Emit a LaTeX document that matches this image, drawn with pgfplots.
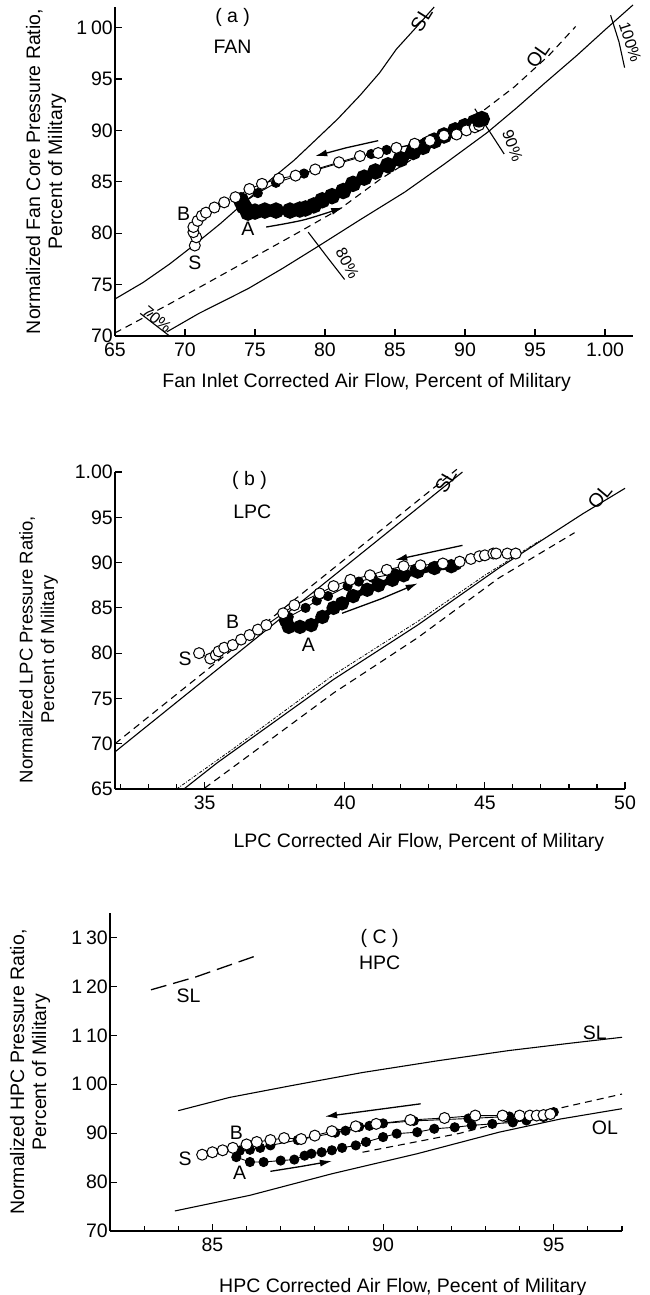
\documentclass[border=0pt]{standalone}
\usepackage{pgfplots}
\pgfplotsset{compat=1.18}
\usepackage{fontspec}
\setmainfont{Liberation Sans}
\usetikzlibrary{arrows.meta}
\newcommand{\fs}{\fontsize{19.5}{22}\selectfont}
\begin{document}
\begin{tikzpicture}
\fs
\useasboundingbox (0pt,0pt) rectangle (650pt,-1295pt);
\pgfplotsset{
  myax/.style={scale only axis, anchor=south west, axis lines=left, axis line style={-, line width=1.6pt},
    tick align=inside, major tick length=7pt, minor tick length=5pt,
    every tick/.style={black, line width=1.1pt}, clip=false,
    ticklabel style={font=\fs, inner sep=2pt}, label style={font=\fs},
    xticklabel style={yshift=-5pt},
    ylabel style={anchor=center, align=center},
    xlabel style={anchor=center}},
  ln/.style={black, line width=1.1pt, no marks},
  dsh/.style={black, line width=1.1pt, no marks, dash pattern=on 7pt off 5pt},
  opn/.style={black, line width=0.9pt, mark=*, mark size=5.5pt, mark options={fill=white, draw=black, line width=1pt, solid}},
  fil/.style={black, line width=0.9pt, mark=*, mark size=4.6pt, mark options={fill=black, draw=black, solid}},
  arr/.style={black, line width=1.3pt, no marks, -{Latex[length=12pt, width=7pt]}},
}
% ---------------- (a) FAN ----------------
\begin{axis}[myax, at={(115pt,-336pt)}, width=518pt, height=329pt,
  xmin=65, xmax=102, ymin=70, ymax=102,
  xtick={65,70,75,80,85,90,95,100}, xticklabels={65,70,75,80,85,90,95,1.00},
  ytick={70,75,80,85,90,95,100}, yticklabels={70,75,80,85,90,95,1\hspace{0.2em}00},
  xlabel={Fan Inlet Corrected Air Flow, Percent of Military},
  ylabel={Normalized Fan Core Pressure Ratio,\\Percent of Military},
  xlabel style={at={(axis description cs:0.486,-0.140)}},
  ylabel style={at={(axis description cs:-0.133,0.5)}}]
\addplot[ln] coordinates {(65,73.6) (67,75.2) (68.9,77.0) (70.6,78.8) (72.5,80.9) (74.5,83.3) (76.2,85.3) (77.8,87.1) (79.2,88.9) (80.9,91.1) (82.5,93.4) (83.9,95.6) (85.1,97.9) (86.5,100.0) (87.8,102.0)};
\addplot[dsh] coordinates {(65,70.3) (69,73.2) (73.9,76.9) (78,80.0) (81.1,82.4) (84,85.3) (86,87.0) (88.5,89.2) (91,91.6) (93.5,94.2) (96,97.3) (97.9,100.1)};
\addplot[ln] coordinates {(68.7,70.4) (71,72.2) (74.5,74.6) (77,76.6) (79.6,78.8) (82.5,81.3) (85.7,84.0) (88.5,86.7) (91.6,89.8) (93.7,92.2) (95.7,94.6) (98,97.3) (100.1,99.9) (102,102.2)};
% speed lines
\addplot[ln] coordinates {(66.8,72.2) (68.9,70.0)};
\addplot[ln] coordinates {(78.8,80.1) (80.2,77.6) (81.4,75.5)};
\addplot[ln] coordinates {(90.7,92.1) (91.8,89.8) (92.8,87.7)};
\addplot[ln] coordinates {(100.4,101.2) (101.0,98.6) (101.4,96.1)};
% data
\addplot[fil, line width=8pt, mark size=4pt] coordinates {(74.0,83.2) (74.2,82.6) (74.5,82.0) (75.0,82.1) (75.7,82.2) (76.5,82.2) (77.5,82.2) (78.2,82.3) (78.6,82.4) (79.2,82.7) (79.8,83.2) (80.5,83.6) (81.3,84.1) (82.0,84.8) (82.8,85.4) (83.6,86.0) (84.5,86.6) (85.4,87.2) (86.3,87.9) (87.0,88.4) (87.8,89.0) (88.5,89.5) (89.3,90.0) (90.0,90.4) (90.7,90.8) (91.2,91.1)};
\addplot[fil] coordinates {(74.2,83.0) (75.2,83.9) (76.5,84.9) (78.5,85.8) (81.0,86.8) (83.3,87.7) (84.4,88.1) (86.3,88.6) (87.2,88.9) (88.1,89.2) (89.3,89.6) (90.5,90.5) (91.0,91.0)};
\addplot[opn] coordinates {(70.7,78.8) (70.8,79.6) (70.6,80.1) (70.6,80.6) (70.9,81.2) (71.2,81.7) (71.5,82.0) (72.1,82.5) (72.8,83.0) (73.6,83.5) (74.6,84.3) (75.5,84.8) (76.7,85.3) (77.9,85.6) (79.3,86.2) (81.0,86.9) (82.5,87.5) (83.8,87.8) (85.1,88.3) (86.4,88.7) (87.5,89.0) (88.5,89.5) (89.4,89.6) (90.1,90.0) (90.7,90.3) (91.0,90.5)};
\addplot[fil, mark size=7pt, only marks] coordinates {(91.0,91.0) (74.3,82.5)};
\addplot[arr] coordinates {(83.8,89.0) (81.5,88.3) (79.3,87.5)};
\addplot[arr, smooth] coordinates {(75.8,80.6) (78.5,81.3) (81.3,82.5)};
\node at (axis cs:73.4,101.0) {( a )};
\node at (axis cs:73.4,98.1) {FAN};
\node[rotate=58] at (axis cs:86.9,100.8) {SL};
\node[rotate=55] at (axis cs:95.2,97.3) {OL};
\node at (axis cs:69.9,81.9) {B};
\node at (axis cs:74.5,80.4) {A};
\node at (axis cs:70.7,77.1) {S};
\node[rotate=-40, font=\fontsize{16}{18}\selectfont] at (axis cs:68.0,71.6) {70\%};
\node[rotate=-62, font=\fontsize{16}{18}\selectfont] at (axis cs:81.6,77.1) {80\%};
\node[rotate=-70, font=\fontsize{16}{18}\selectfont] at (axis cs:93.4,88.5) {90\%};
\node[rotate=-72, font=\fontsize{16}{18}\selectfont] at (axis cs:101.8,98.6) {100\%};
\end{axis}
% ---------------- (b) LPC ----------------
\begin{axis}[myax, at={(115pt,-789pt)}, width=510pt, height=317pt,
  xmin=31.8, xmax=50, ymin=65, ymax=100,
  xtick={35,40,45,50}, xticklabels={35,40,45,50},
  minor xtick={32,33,34,36,37,38,39,41,42,43,44,46,47,48,49},
  ytick={65,70,75,80,85,90,95,100}, yticklabels={65,70,75,80,85,90,95,1.00},
  xlabel={LPC Corrected Air Flow, Percent of Military},
  ylabel={Normalized LPC Pressure Ratio,\\Percent of Military},
  xlabel style={at={(axis description cs:0.596,-0.170)}},
  ylabel style={at={(axis description cs:-0.15,0.44)}, font=\fontsize{18.5}{21.5}\selectfont}]
\addplot[ln] coordinates {(31.8,69.1) (44.2,100.0)};
\addplot[dsh] coordinates {(31.8,70.0) (44.0,100.3)};
\addplot[ln] coordinates {(34.26,65.0) (35.45,67.9) (39.6,77.1) (42.6,83.1) (45.5,89.4) (48.5,95.4) (50,98.2)};
\addplot[black, line width=0.8pt, no marks, dash pattern=on 3pt off 1.5pt on 1pt off 1.5pt] coordinates {(34.0,65.0) (36.0,69.4) (39.6,77.6) (42.6,83.5) (45.0,88.6) (47.0,92.5)};
\addplot[dsh] coordinates {(35.0,65.1) (39.6,75.6) (42.6,81.7) (45.5,88.3) (48.2,93.3)};
\addplot[fil, line width=6pt, mark size=4pt] coordinates {(37.9,83.6) (38.0,82.9) (38.4,82.9) (38.8,83.1) (39.2,84.0) (39.6,85.0) (39.9,85.5) (40.3,86.3) (40.8,87.0) (41.2,87.5) (41.7,88.1) (42.1,88.6) (42.6,89.0) (43.2,89.4) (43.8,89.6)};
\addplot[fil] coordinates {(38.0,84.0) (38.6,85.0) (39.0,85.8) (39.4,86.3) (40.1,87.4) (40.5,87.9) (41.0,88.3) (41.8,88.8) (42.5,89.3) (43.3,89.6) (44.0,89.7)};
\addplot[opn] coordinates {(34.8,80.0) (35.2,79.4) (35.4,79.8) (35.5,80.2) (35.7,80.6) (36.0,80.9) (36.3,81.5) (36.6,82.0) (36.9,82.6) (37.2,83.1) (37.8,84.4) (38.2,85.3) (39.1,86.6) (39.6,87.4) (40.2,88.1) (40.9,88.6) (41.5,89.2) (42.1,89.6) (42.7,89.7) (43.5,89.9) (44.1,90.1) (44.5,90.4) (44.8,90.7) (45.0,90.8) (45.3,91.0) (45.4,91.0) (45.8,91.0) (46.1,91.0)};
\addplot[arr] coordinates {(44.2,91.9) (43.0,91.1) (41.8,90.3)};
\addplot[arr] coordinates {(39.9,84.4) (41.3,86.0) (42.6,87.7)};
\node at (axis cs:36.6,99.1) {( b )};
\node at (axis cs:36.7,95.6) {LPC};
\node[rotate=60] at (axis cs:43.6,99.0) {SL};
\node[rotate=50] at (axis cs:49.1,97.3) {OL};
\node at (axis cs:36.0,83.5) {B};
\node at (axis cs:38.7,80.9) {A};
\node at (axis cs:34.3,79.4) {S};
\end{axis}
% ---------------- (c) HPC ----------------
\begin{axis}[myax, at={(110pt,-1231pt)}, width=512pt, height=318pt,
  xmin=82, xmax=97, ymin=70, ymax=135,
  xtick={85,90,95}, xticklabels={85,90,95},
  minor xtick={83,84,86,87,88,89,91,92,93,94,96,97},
  ytick={70,80,90,100,110,120,130}, yticklabels={70,80,90,1\hspace{0.2em}00,1\hspace{0.2em}10,1\hspace{0.2em}20,1\hspace{0.2em}30},
  xlabel={HPC Corrected Air Flow, Pecent of Military},
  ylabel={Normalized HPC Pressure Ratio,\\Percent of Military},
  xlabel style={at={(axis description cs:0.572,-0.176)}},
  ylabel style={at={(axis description cs:-0.156,0.5)}}]
\addplot[black, line width=1.3pt, no marks, dash pattern=on 16pt off 7pt] coordinates {(83.2,119.3) (84.5,121.9) (86.3,126.3)};
\addplot[ln] coordinates {(84.0,94.6) (85.5,97.3) (87.3,99.7) (89.4,102.4) (91.6,104.8) (93.7,106.9) (95.5,108.4) (97.0,109.6)};
\addplot[ln] coordinates {(83.9,74.1) (86.1,77.3) (88.5,81.7) (91.0,85.8) (93.4,90.2) (95.2,92.9) (97.0,95.0)};
\addplot[dsh] coordinates {(89.4,86.1) (92.2,89.9) (95.1,95.0) (97.0,98.0)};
\addplot[fil] coordinates {(85.7,85.1) (86.1,84.1) (86.5,84.1) (87.0,84.4) (87.4,84.6) (87.7,85.4) (87.9,85.8) (88.2,86.1) (88.5,86.5) (88.8,87.0) (89.2,87.5) (89.5,88.2) (90.0,89.2) (90.4,89.9) (91.0,90.2) (91.5,90.9) (92.1,91.2) (92.6,91.6) (93.2,91.9) (93.8,92.2) (94.2,92.6) (94.7,93.3) (95.0,94.3)};
\addplot[fil] coordinates {(85.8,86.4) (86.1,86.6) (86.4,87.0) (86.7,87.5) (87.5,88.6) (88.6,90.1) (88.9,90.5) (89.3,91.3) (89.6,91.5) (90.0,92.0) (90.9,92.5) (92.5,93.0) (93.7,93.4) (94.8,93.8)};
\addplot[opn] coordinates {(84.7,85.6) (85.0,86.1) (85.3,86.5) (85.6,87.0) (86.0,87.7) (86.3,88.2) (86.7,88.6) (87.1,89.0) (87.6,88.8) (88.0,89.5) (88.5,90.4) (89.2,91.4) (89.8,91.9) (90.8,92.7) (91.8,93.1) (92.7,93.6) (93.5,93.6) (94.0,93.6) (94.3,93.6) (94.5,93.6) (94.7,93.7) (94.9,93.9)};
\addplot[arr] coordinates {(91.1,96.0) (89.7,94.7) (88.3,93.4)};
\addplot[arr] coordinates {(86.7,82.2) (87.6,83.2) (88.5,84.3)};
\node at (axis cs:89.9,129.7) {( C )};
\node at (axis cs:89.9,124.9) {HPC};
\node at (axis cs:84.3,118.1) {SL};
\node at (axis cs:96.2,110.6) {SL};
\node at (axis cs:96.5,91.2) {OL};
\node at (axis cs:85.7,90.0) {B};
\node at (axis cs:85.8,82.0) {A};
\node at (axis cs:84.2,84.8) {S};
\end{axis}
\end{tikzpicture}
\end{document}
